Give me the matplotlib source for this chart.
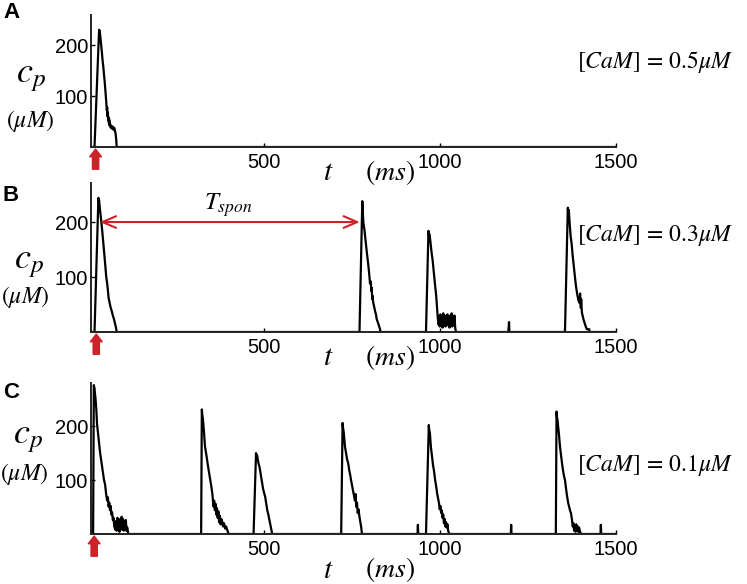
import matplotlib
matplotlib.use('Agg')
import matplotlib.pyplot as plt

plt.rcParams.update({
    'font.family': ['Liberation Sans', 'DejaVu Sans'],
    'font.size': 14,
    'mathtext.fontset': 'stix',
})

# ---- data (t in ms, c_p in uM), one list pair per spike ----
# panel A, [CaM] = 0.5 uM
a1_t = [18, 31, 32, 33, 35, 37, 39, 41, 43, 45, 47, 49, 51, 53, 54, 55, 56, 57, 58,
        59, 60, 61, 62, 64, 66, 68, 70, 72, 74, 76, 78, 80, 81]
a1_c = [0, 231, 226, 228, 214, 200, 186, 170, 158, 142, 128, 110, 92, 72, 78, 60, 68, 52, 58,
        46, 54, 42, 46, 38, 42, 36, 40, 34, 38, 32, 26, 12, 0]

# panel B, [CaM] = 0.3 uM
b1_t = [18, 29, 30, 31, 33, 36, 39, 43, 46, 49, 51, 54, 56, 58, 61, 64, 67, 70, 73, 76, 79, 81]
b1_c = [0, 244, 238, 240, 226, 208, 190, 162, 140, 118, 102, 88, 76, 62, 53, 44, 38, 30, 24, 16, 8, 0]
b2_t = [771, 779, 780, 782, 785, 788, 792, 795, 798, 801, 803, 805, 806, 807, 808,
        810, 812, 814, 816, 818, 820, 823, 826, 829, 831]
b2_c = [0, 238, 226, 199, 186, 168, 144, 128, 110, 88, 92, 74, 80, 60, 66,
        54, 48, 42, 36, 32, 23, 18, 12, 6, 0]
b3_t = [960, 967, 968, 970, 973, 976, 979, 982, 986, 989, 991, 993, 995, 997, 999,
        1001, 1003, 1005, 1007, 1009, 1011, 1013, 1015, 1017, 1019, 1021,
        1023, 1025, 1027, 1029, 1031, 1033, 1035, 1037, 1039, 1041, 1043, 1045]
b3_c = [0, 184, 176, 178, 162, 144, 130, 110, 84, 66, 48, 30, 14, 28, 10,
        32, 12, 26, 8, 34, 14, 30, 10, 28, 12, 32,
        16, 26, 8, 30, 12, 34, 10, 28, 14, 30, 8, 0]
b4_t = [1194, 1196, 1197]
b4_c = [0, 18, 0]
b5_t = [1355, 1363, 1364, 1366, 1368, 1371, 1374, 1377, 1381, 1384, 1387, 1390, 1393,
        1396, 1398, 1400, 1401, 1403, 1405, 1408, 1411, 1414, 1417, 1418, 1424, 1425]
b5_c = [0, 226, 220, 222, 200, 175, 160, 138, 114, 96, 80, 68, 58,
        53, 70, 44, 60, 36, 30, 22, 16, 10, 5, 5, 5, 0]

# panel C, [CaM] = 0.1 uM
c1_t = [14, 16, 18, 19, 21, 23, 25, 28, 31, 34, 37, 41, 45, 48, 51, 54, 56, 58, 60, 62,
        64, 66, 68, 70, 72, 74, 77, 79, 81, 83, 85, 87, 89, 91, 93, 95, 97, 99, 101, 103,
        105, 107, 109, 111, 114]
c1_c = [0, 276, 270, 262, 250, 232, 205, 186, 168, 150, 136, 118, 100, 92, 74, 62, 68, 51, 58, 44,
        52, 36, 40, 26, 30, 14, 8, 24, 6, 30, 10, 28, 4, 26, 12, 32, 8, 28, 6, 24,
        10, 26, 6, 12, 0]
c2_t = [321, 323, 324, 326, 329, 332, 336, 340, 344, 347, 350, 353, 356, 358, 360, 362,
        364, 366, 368, 370, 372, 374, 376, 378, 380, 383, 386, 389, 392, 396, 399]
c2_c = [0, 231, 222, 214, 190, 162, 146, 128, 112, 100, 88, 74, 51, 62, 44, 56,
        36, 48, 30, 42, 22, 34, 18, 28, 26, 14, 20, 10, 14, 6, 0]
c3_t = [470, 477, 478, 480, 484, 487, 490, 493, 497, 500, 503, 506, 509, 512, 515, 518, 521, 523]
c3_c = [0, 150, 142, 146, 131, 124, 112, 100, 84, 76, 69, 56, 44, 36, 26, 16, 6, 0]
c4_t = [719, 723, 724, 726, 730, 733, 736, 739, 742, 745, 747, 750, 752, 754, 756,
        758, 760, 762, 764, 766, 768, 771, 774, 776, 778]
c4_c = [0, 206, 198, 190, 161, 150, 138, 131, 118, 108, 100, 90, 84, 76, 69,
        62, 74, 50, 58, 39, 46, 32, 20, 12, 0]
c5_t = [936, 937, 938]
c5_c = [0, 17, 0]
c6_t = [960, 968, 969, 971, 974, 977, 980, 983, 986, 989, 992, 995, 997, 999, 1001,
        1003, 1005, 1007, 1009, 1011, 1013, 1015, 1017, 1019, 1021, 1023, 1026]
c6_c = [0, 202, 194, 188, 161, 144, 128, 116, 100, 88, 74, 64, 57, 46, 52,
        39, 44, 30, 36, 20, 28, 14, 22, 12, 18, 6, 0]
c7_t = [1201, 1202, 1203]
c7_c = [0, 17, 0]
c8_t = [1329, 1331, 1332, 1334, 1338, 1341, 1345, 1348, 1352, 1355, 1358, 1361, 1364, 1367, 1370,
        1372, 1375, 1377, 1379, 1381, 1383, 1385, 1387, 1389, 1391, 1393, 1395, 1398, 1401, 1404]
c8_c = [0, 227, 218, 210, 184, 161, 140, 124, 108, 100, 84, 70, 58, 50, 42,
        39, 26, 14, 20, 6, 16, 4, 18, 6, 14, 4, 12, 4, 0, 0]
c9_t = [1456, 1457, 1458]
c9_c = [0, 17, 0]

x_ticks = [500, 1000, 1500]
y_ticks = [100, 200]
cam_values = ['0.5', '0.3', '0.1']
panel_letters = ['A', 'B', 'C']
stim_t = [21, 23, 17]
y_max = [260, 271, 280]
t_spon = (33, 772, 200)

panels = [
    [(a1_t, a1_c)],
    [(b1_t, b1_c), (b2_t, b2_c), (b3_t, b3_c), (b4_t, b4_c), (b5_t, b5_c)],
    [(c1_t, c1_c), (c2_t, c2_c), (c3_t, c3_c), (c4_t, c4_c), (c5_t, c5_c),
     (c6_t, c6_c), (c7_t, c7_c), (c8_t, c8_c), (c9_t, c9_c)],
]

W, H = 747, 584
fig = plt.figure(figsize=(W / 100, H / 100), dpi=100)

# axes boxes in pixels: (left, bottom, right, top)
boxes = [(91, 147, 616, 15), (91, 332, 616, 183), (91, 534, 616, 383)]
cp_pos = [(31, 77, 30, 121), (29, 262, 25, 297), (28, 437, 24, 474)]
t_label_y = [172, 357, 570]
cam_y = [62, 235, 466]
letter_y = [13, 195, 392]

red = '#cc2229'

for i, spikes in enumerate(panels):
    tt = [0]
    cc = [0]
    for st, sc in spikes:
        tt += st
        cc += sc
    tt.append(1500)
    cc.append(0)

    l, b, r, t = boxes[i]
    ax = fig.add_axes([l / W, 1 - b / H, (r - l) / W, (b - t) / H])
    ax.plot(tt, cc, color='black', lw=1.6)
    ax.set_xlim(8, 1500)
    ax.set_ylim(0, y_max[i])
    ax.set_xticks(x_ticks)
    ax.set_yticks(y_ticks)
    ax.tick_params(direction='in', length=3, width=1, pad=4, labelsize=14.5, colors='black')
    ax.tick_params(axis='y', pad=2)
    for s in ['top', 'right']:
        ax.spines[s].set_visible(False)
    for s in ['left', 'bottom']:
        ax.spines[s].set_linewidth(1.4)
        ax.spines[s].set_color('#222222')

    # stimulus arrow below the axis
    ax.annotate('', xy=(stim_t[i], 0), xycoords=('data', 'axes fraction'),
                xytext=(0, -16), textcoords='offset points',
                arrowprops=dict(arrowstyle='simple,head_length=0.55,head_width=0.85,tail_width=0.45',
                                color=red, mutation_scale=10, shrinkA=0, shrinkB=1.5),
                annotation_clip=False)

    if i == 1:
        ax.annotate('', xy=(t_spon[0], t_spon[2]), xytext=(t_spon[1], t_spon[2]),
                    arrowprops=dict(arrowstyle='<->,head_length=0.7,head_width=0.3',
                                    color=red, lw=1.5, mutation_scale=14,
                                    shrinkA=0, shrinkB=0))
        ax.text((t_spon[0] + t_spon[1]) / 2 - 5, 230, r'$T_{spon}$', ha='center', va='center',
                fontsize=18)

    fig.text(cp_pos[i][0] / W, 1 - cp_pos[i][1] / H, r'$c_p$', ha='center', va='center',
             fontsize=26)
    fig.text(cp_pos[i][2] / W, 1 - cp_pos[i][3] / H, r'$(\mu M)$', ha='center', va='center',
             fontsize=17)
    fig.text(328 / W, 1 - t_label_y[i] / H, r'$t$', ha='center', va='center', fontsize=21)
    fig.text(390 / W, 1 - t_label_y[i] / H, r'$(ms)$', ha='center', va='center', fontsize=20)
    fig.text(655 / W, 1 - cam_y[i] / H, r'$[CaM]\,=\,' + cam_values[i] + r'\mu M$',
             ha='center', va='center', fontsize=17)
    fig.text(11 / W, 1 - letter_y[i] / H, panel_letters[i], ha='center', va='center',
             fontsize=16, fontweight='bold')

fig.savefig('out.png', dpi=100)
